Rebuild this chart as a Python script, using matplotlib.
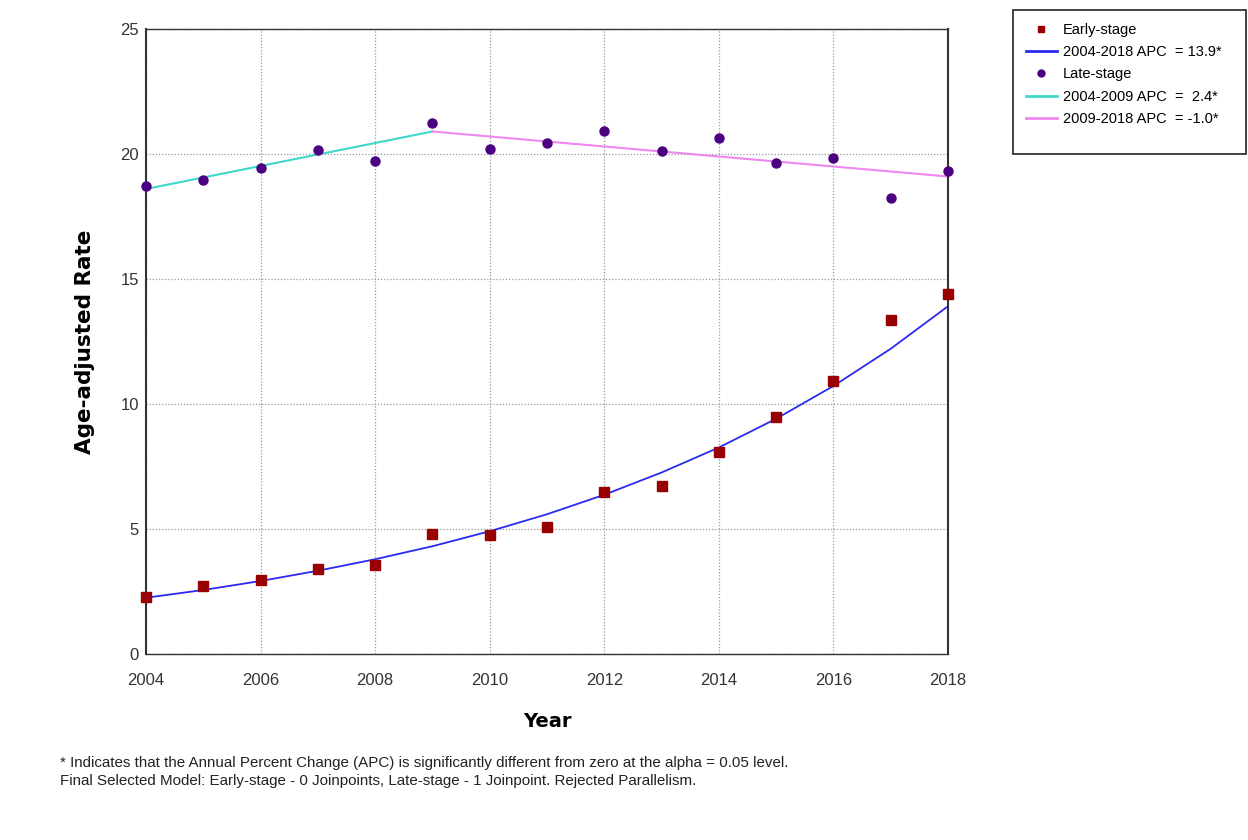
import matplotlib
matplotlib.use("Agg")
import matplotlib.pyplot as plt
from matplotlib.lines import Line2D
from matplotlib.patches import Rectangle

plt.rcParams['font.family'] = ['Liberation Sans Narrow', 'Liberation Sans', 'DejaVu Sans']

years = [2004, 2005, 2006, 2007, 2008, 2009, 2010, 2011, 2012, 2013, 2014, 2015, 2016, 2017, 2018]
early_obs = [2.28, 2.72, 2.96, 3.40, 3.56, 4.80, 4.76, 5.08, 6.48, 6.72, 8.08, 9.48, 10.92, 13.36, 14.40]
early_fit = [2.25, 2.56, 2.92, 3.33, 3.79, 4.31, 4.91, 5.59, 6.37, 7.26, 8.26, 9.41, 10.72, 12.21, 13.91]
late_obs = [18.72, 18.96, 19.44, 20.16, 19.72, 21.24, 20.20, 20.44, 20.92, 20.12, 20.64, 19.64, 19.84, 18.24, 19.32]
late_seg1_years = [2004, 2009]
late_seg1_fit = [18.6, 20.9]
late_seg2_years = [2009, 2018]
late_seg2_fit = [20.9, 19.1]

legend_labels = ["Early-stage", "2004-2018 APC  = 13.9*", "Late-stage",
                 "2004-2009 APC  =  2.4*", "2009-2018 APC  = -1.0*"]
yticks = [0, 5, 10, 15, 20, 25]
xticks = [2004, 2006, 2008, 2010, 2012, 2014, 2016, 2018]

c_early = '#990000'
c_early_line = '#2a2af0'
c_late = '#4b0082'
c_seg1 = '#40d8c8'
c_seg2 = '#ee88ee'

W, H = 1248, 840
fig = plt.figure(figsize=(W / 100, H / 100), dpi=100)
ax = fig.add_axes([146/W, 1-654/H, (948-146)/W, (654-29)/H])

ax.plot(years, early_fit, color=c_early_line, lw=1.3, zorder=2)
ax.plot(late_seg1_years, late_seg1_fit, color=c_seg1, lw=1.5, zorder=2)
ax.plot(late_seg2_years, late_seg2_fit, color=c_seg2, lw=1.5, zorder=2)
ax.plot(years, early_obs, linestyle='none', marker='s', ms=6.5, color=c_early, zorder=3, clip_on=False)
ax.plot(years, late_obs, linestyle='none', marker='o', ms=6.5, color=c_late, zorder=3, clip_on=False)

ax.set_xlim(2004, 2018)
ax.set_ylim(0, 25)
ax.set_xticks(xticks)
ax.set_yticks(yticks)
ax.tick_params(axis='both', length=0, labelsize=12, colors='#333333')
ax.tick_params(axis='x', pad=14)
ax.tick_params(axis='y', pad=5)
ax.grid(True, linestyle=(0, (1, 1.5)), color='#999999', lw=0.9)
for s in ax.spines.values():
    s.set_color('#333333')
    s.set_linewidth(1.0)
ax.spines['right'].set_linewidth(1.5)
ax.spines['left'].set_linewidth(1.5)

ax.set_xlabel("Year", fontsize=14, fontweight='bold', family='DejaVu Sans', labelpad=17)
ax.set_ylabel("Age-adjusted Rate", fontsize=15.5, fontweight='bold', family='DejaVu Sans', labelpad=18)

handles = [
    Line2D([], [], linestyle='none', marker='s', ms=5, color=c_early),
    Line2D([], [], color=c_early_line, lw=2),
    Line2D([], [], linestyle='none', marker='o', ms=5, color=c_late),
    Line2D([], [], color=c_seg1, lw=2),
    Line2D([], [], color=c_seg2, lw=2),
]
fig.patches.append(Rectangle((1013/W, 1-154/H), (1246-1013)/W, (154-10)/H,
                             transform=fig.transFigure, fill=True, facecolor='white',
                             edgecolor='#222222', lw=1.2, zorder=0))
leg = fig.legend(handles, legend_labels, loc='upper left',
                 bbox_to_anchor=(1013/W, 1-10/H), fontsize=10.5,
                 frameon=False, handlelength=2.1, handletextpad=0.4,
                 labelspacing=0.56, borderpad=0.9, borderaxespad=0)

fig.text(60/W, 1-763/H, "* Indicates that the Annual Percent Change (APC) is significantly different from zero at the alpha = 0.05 level.",
         fontsize=10.9, va='center', color='#222222')
fig.text(60/W, 1-781/H, "Final Selected Model: Early-stage - 0 Joinpoints, Late-stage - 1 Joinpoint. Rejected Parallelism.",
         fontsize=10.9, va='center', color='#222222')

fig.savefig("out.png", dpi=100)
